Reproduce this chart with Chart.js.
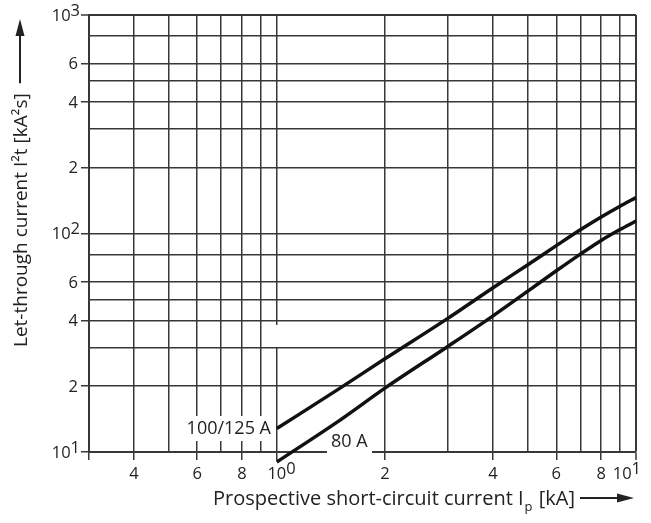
<!DOCTYPE html>
<html>
<head>
<meta charset="utf-8">
<script src="https://cdn.jsdelivr.net/npm/chart.js@4.4.0/dist/chart.umd.min.js"></script>
<style>
  body { margin: 0; background: #fff; }
  canvas { display: block; }
</style>
</head>
<body>
<canvas id="chart" width="651" height="523"></canvas>
<script>
// prospective current Ip [kA] and let-through I2t [kA2s]
const current = [1, 1.5, 2, 3, 4, 5, 6, 7, 8, 9, 10];
const letThrough125 = [12.8, 19.6, 26.7, 41, 56.5, 72, 88, 104, 119, 133, 146];
const letThrough80 = [9.0, 14.0, 19.6, 30.5, 42, 54.5, 67.5, 80.5, 93, 104, 114];

const xGrid = [0.3, 0.4, 0.5, 0.6, 0.7, 0.8, 0.9, 1, 2, 3, 4, 5, 6, 7, 8, 9, 10];
const yGrid = [10, 20, 30, 40, 50, 60, 80, 100, 200, 300, 400, 500, 600, 800, 1000];

const xTickValues = [0.4, 0.6, 0.8, 1, 2, 4, 6, 8, 10];
const xTickLabels = ["4", "6", "8", "10^0", "2", "4", "6", "8", "10^1"];
const yTickValues = [10, 20, 40, 60, 100, 200, 400, 600, 1000];
const yTickLabels = ["10^1", "2", "4", "6", "10^2", "2", "4", "6", "10^3"];

const INK = "#222";
const GRID = "#383838";
const FAMILY = "'Open Sans', 'Noto Sans', sans-serif";

const hasTick = (list) => (ctx) =>
    ctx.tick && list.includes(ctx.tick.value) ? GRID : "rgba(0,0,0,0)";

// pow label like 10^0 -> "10" with raised exponent
function drawLabel(ctx, text, x, y, mode) {
    const parts = text.split("^");
    ctx.font = "16.5px " + FAMILY;
    ctx.textBaseline = "middle";
    ctx.textAlign = "left";
    const wb = ctx.measureText(parts[0]).width;
    const we = parts[1] ? ctx.measureText(parts[1]).width : 0;
    let x0;
    if (mode === "x") {
        x0 = x - wb / 2;
        if (x0 + wb + we > 641) x0 = 641 - wb - we;
    } else {
        x0 = x - wb - we;
    }
    ctx.fillText(parts[0], x0, y);
    if (parts[1]) ctx.fillText(parts[1], x0 + wb, y - 5);
}

const decor = {
    id: "decor",
    afterDatasetsDraw(chart) {
        const ctx = chart.ctx;
        ctx.save();
        // white boxes behind the curve names and the gap in the 10^0 line
        ctx.fillStyle = "#fff";
        ctx.fillRect(183, 416, 91, 25);
        ctx.fillRect(327, 432, 45, 24);
        ctx.fillRect(274, 325, 6, 22);
        ctx.fillStyle = INK;
        ctx.font = "18px " + FAMILY;
        ctx.textBaseline = "middle";
        ctx.textAlign = "right";
        ctx.fillText("100/125 A", 271, 429);
        ctx.textAlign = "left";
        ctx.fillText("80 A", 331, 442);
        ctx.restore();
    },
    afterDraw(chart) {
        const ctx = chart.ctx;
        const xs = chart.scales.x, ys = chart.scales.y;
        ctx.save();
        ctx.fillStyle = INK;
        xTickValues.forEach((v, i) => {
            drawLabel(ctx, xTickLabels[i], xs.getPixelForValue(v), 474, "x");
        });
        yTickValues.forEach((v, i) => {
            const right = yTickLabels[i].includes("^") ? 80 : 78;
            drawLabel(ctx, yTickLabels[i], right, ys.getPixelForValue(v) + 1, "y");
        });

        // x title with subscript and arrow
        ctx.font = "20px " + FAMILY;
        ctx.textBaseline = "alphabetic";
        ctx.textAlign = "left";
        let x = 213;
        const base = 505;
        const t1 = "Prospective short-circuit current I";
        ctx.fillText(t1, x, base);
        x += ctx.measureText(t1).width;
        ctx.font = "13px " + FAMILY;
        ctx.fillText("p", x + 1, base + 6);
        x += ctx.measureText("p").width + 2;
        ctx.font = "20px " + FAMILY;
        ctx.fillText(" [kA]", x, base);
        x += ctx.measureText(" [kA]").width;
        ctx.strokeStyle = INK;
        ctx.lineWidth = 2;
        ctx.beginPath();
        ctx.moveTo(x + 5, 498);
        ctx.lineTo(625, 498);
        ctx.stroke();
        ctx.beginPath();
        ctx.moveTo(634, 498);
        ctx.lineTo(617, 493.5);
        ctx.lineTo(617, 502.5);
        ctx.closePath();
        ctx.fill();

        // y title, rotated, with arrow above
        ctx.translate(27, 347);
        ctx.rotate(-Math.PI / 2);
        const yt = "Let-through current I\u00b2t [kA\u00b2s]";
        ctx.font = "19px " + FAMILY;
        ctx.fillText(yt, 0, 0);
        const w = ctx.measureText(yt).width;
        ctx.beginPath();
        ctx.moveTo(w + 10, -7);
        ctx.lineTo(318, -7);
        ctx.stroke();
        ctx.beginPath();
        ctx.moveTo(328, -7);
        ctx.lineTo(311, -11.5);
        ctx.lineTo(311, -2.5);
        ctx.closePath();
        ctx.fill();
        ctx.restore();
    }
};

new Chart(document.getElementById("chart"), {
    type: "line",
    data: {
        datasets: [
            {
                label: "100/125 A",
                data: current.map((c, i) => ({ x: c, y: letThrough125[i] })),
                borderColor: "#111",
                borderWidth: 3.5,
                pointRadius: 0,
                cubicInterpolationMode: "monotone",
                clip: false
            },
            {
                label: "80 A",
                data: current.map((c, i) => ({ x: c, y: letThrough80[i] })),
                borderColor: "#111",
                borderWidth: 3.5,
                pointRadius: 0,
                cubicInterpolationMode: "monotone",
                clip: false
            }
        ]
    },
    options: {
        responsive: false,
        animation: false,
        layout: { padding: { left: 81, top: 15, right: 15, bottom: 63 } },
        plugins: {
            legend: { display: false },
            tooltip: { enabled: false }
        },
        scales: {
            x: {
                type: "logarithmic",
                min: 0.3,
                max: 10,
                afterBuildTicks: (s) => { s.ticks = xGrid.map(v => ({ value: v })); },
                ticks: { display: false },
                grid: {
                    color: GRID,
                    lineWidth: (ctx) => ctx.tick && ctx.tick.value === 10 ? 2 : 1.5,
                    tickLength: 8,
                    tickColor: hasTick([0.3].concat(xTickValues)),
                    tickWidth: 1.5
                },
                border: { color: GRID, width: 2 }
            },
            y: {
                type: "logarithmic",
                min: 10,
                max: 1000,
                afterBuildTicks: (s) => { s.ticks = yGrid.map(v => ({ value: v })); },
                ticks: { display: false },
                grid: {
                    color: GRID,
                    lineWidth: (ctx) => ctx.tick && ctx.tick.value === 1000 ? 2 : 1.5,
                    tickLength: 8,
                    tickColor: hasTick(yTickValues),
                    tickWidth: 1.5
                },
                border: { color: GRID, width: 2 }
            }
        }
    },
    plugins: [decor]
});
</script>
</body>
</html>
